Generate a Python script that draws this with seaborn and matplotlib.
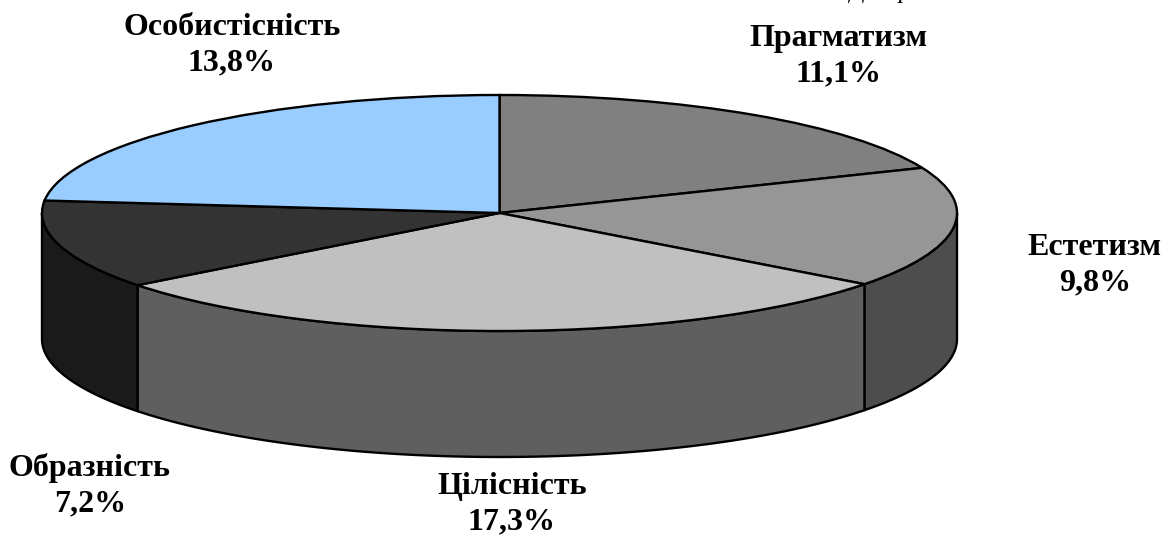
import numpy as np
import matplotlib
matplotlib.use("Agg")
import matplotlib.pyplot as plt
import seaborn as sns

categories = ["Прагматизм", "Естетизм", "Цілісність", "Образність", "Особистісність"]
values = [11.1, 9.8, 17.3, 7.2, 13.8]
value_labels = ["11,1%", "9,8%", "17,3%", "7,2%", "13,8%"]
top_colors = ["#808080", "#969696", "#C0C0C0", "#333333", "#99CCFF"]
side_colors = ["#404040", "#4D4D4D", "#5F5F5F", "#1A1A1A", "#4D6680"]
label_px = [(838, 56), (1095, 265), (512, 504), (90, 486), (232, 45)]

W, H = 1172, 535
CX, CY, RX, RY, DEPTH = 499.5, 213, 457.5, 118, 126

sns.set_theme(style="white")
plt.rcParams["font.family"] = ["Liberation Serif", "DejaVu Serif"]

fig = plt.figure(figsize=(W / 100, H / 100), dpi=100, facecolor="white")
ax = fig.add_axes([0, 0, 1, 1])

depth = DEPTH / RY
shares = np.array(values) / sum(values)
ends = 90 - 360 * np.cumsum(shares)
starts = np.r_[90, ends[:-1]]

# side walls: only the front half of the rim (180..360 deg) is visible
for a0, a1, c in zip(starts, ends, side_colors):
    lo, hi = a1 % 360, a0 % 360
    if hi <= lo:
        hi += 360
    lo, hi = max(lo, 180), min(hi, 360)
    if hi <= lo:
        continue
    t = np.radians(np.linspace(lo, hi, 160))
    xs = np.cos(t)
    ys = np.sin(t)
    ax.fill(np.r_[xs, xs[::-1]], np.r_[ys, ys[::-1] - depth],
            facecolor=c, edgecolor="black", linewidth=1.7, joinstyle="round", zorder=1)

wedges, _ = ax.pie(values, colors=top_colors, startangle=90, counterclock=False,
                   radius=1, center=(0, 0),
                   wedgeprops=dict(edgecolor="black", linewidth=1.7))
for w in wedges:
    w.set_zorder(2)

ax.set_aspect("auto")
ax.set_xlim(-CX / RX, (W - CX) / RX)
ax.set_ylim(-(H - CY) / RY, CY / RY)
ax.axis("off")

for name, val, (px, py) in zip(categories, value_labels, label_px):
    fig.text(px / W, 1 - py / H, f"{name}\n{val}", ha="center", va="center",
             fontsize=23, fontweight="bold", color="black", linespacing=1.28)

fig.text(850 / W, 1 + 2 / H, "Джерело", ha="left", va="baseline",
         fontsize=18, fontstyle="italic", color="black")

fig.savefig("out.png", dpi=100, facecolor="white")
